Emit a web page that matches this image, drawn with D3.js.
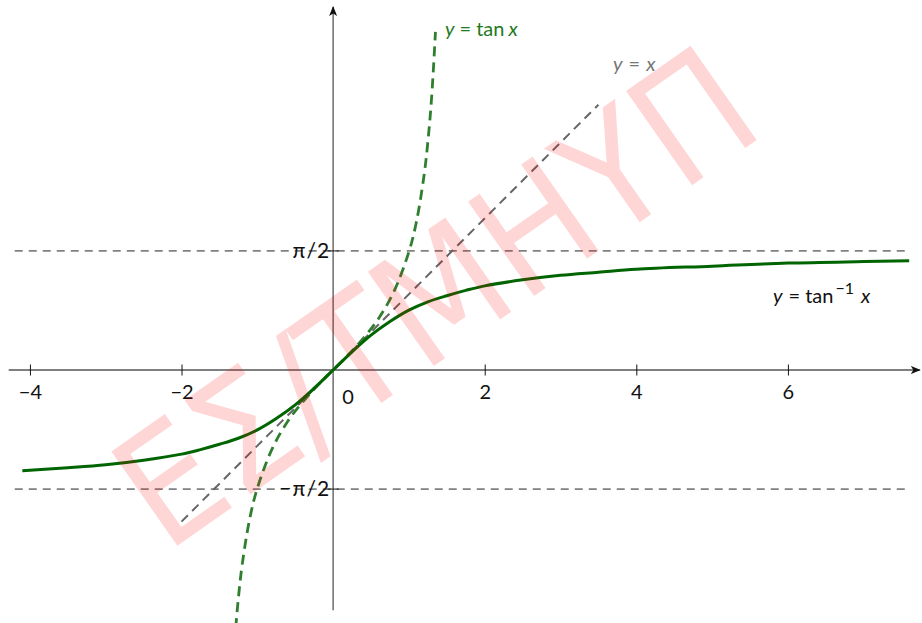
<!DOCTYPE html>
<html>
<head>
<meta charset="utf-8">
<script src="https://cdn.jsdelivr.net/npm/d3@7"></script>
<style>
  html, body { margin: 0; padding: 0; background: #fff; }
  svg { display: block; font-family: Lato, "Open Sans", sans-serif; }
</style>
</head>
<body>
<div id="chart"></div>
<script>
const width = 922;
const height = 623;

// values
const atanX = [-4.1, -3.5, -3, -2.5, -2, -1.75, -1.5, -1.25, -1, -0.75, -0.5, -0.25, 0, 0.25, 0.5, 0.75, 1, 1.25, 1.5, 1.75, 2, 2.5, 3, 3.5, 4, 5, 6, 7, 7.6];
const atanY = [-1.33, -1.29, -1.25, -1.19, -1.11, -1.05, -0.98, -0.9, -0.79, -0.64, -0.46, -0.24, 0, 0.24, 0.46, 0.64, 0.79, 0.9, 0.98, 1.05, 1.11, 1.19, 1.25, 1.29, 1.33, 1.37, 1.41, 1.43, 1.44];

const tanX = [-1.35, -1.3, -1.25, -1.2, -1.1, -1.0, -0.8, -0.6, -0.4, -0.2, 0, 0.2, 0.4, 0.6, 0.8, 1.0, 1.1, 1.2, 1.25, 1.3, 1.35];
const tanY = [-4.46, -3.6, -3.01, -2.57, -1.96, -1.56, -1.03, -0.68, -0.42, -0.2, 0, 0.2, 0.42, 0.68, 1.03, 1.56, 1.96, 2.57, 3.01, 3.6, 4.46];

const identX = [-2, 3.5];
const identY = [-2, 3.5];

const asymX = [-4.2, 7.6];
const asymY = [1.5708, -1.5708];
const asymLabels = ["π/2", "−π/2"];

const xTicks = [-4, -2, 2, 4, 6];

const x = d3.scaleLinear().domain([-4.28, 7.74]).range([8.7, 919.8]);
const y = d3.scaleLinear().domain([-3.17, 4.79]).range([610.3, 6.9]);

const svg = d3.select("#chart")
    .append("svg")
    .attr("width", width)
    .attr("height", height);

const defs = svg.append("defs");
defs.append("marker")
    .attr("id", "arrow")
    .attr("viewBox", "0 0 10 10")
    .attr("refX", 9).attr("refY", 5)
    .attr("markerWidth", 10).attr("markerHeight", 10)
    .attr("markerUnits", "userSpaceOnUse")
    .attr("orient", "auto")
    .append("path")
    .attr("d", "M0,1 L10,5 L0,9 L2.5,5 Z")
    .attr("fill", "#111");

const line = d3.line().x(d => x(d[0])).y(d => y(d[1]));
const curve = d3.line().x(d => x(d[0])).y(d => y(d[1])).curve(d3.curveCatmullRom);

// asymptotes
asymY.forEach(v => {
    svg.append("path")
        .attr("d", line(asymX.map(a => [a, v])))
        .attr("fill", "none")
        .attr("stroke", "#222")
        .attr("stroke-width", 1)
        .attr("stroke-dasharray", "8,6");
});

// axes
svg.append("line")
    .attr("x1", x(-4.28)).attr("x2", x(7.74))
    .attr("y1", y(0)).attr("y2", y(0))
    .attr("stroke", "#555").attr("stroke-width", 1.3)
    .attr("marker-end", "url(#arrow)");
svg.append("line")
    .attr("x1", x(0)).attr("x2", x(0))
    .attr("y1", y(-3.17)).attr("y2", y(4.79))
    .attr("stroke", "#555").attr("stroke-width", 1.3)
    .attr("marker-end", "url(#arrow)");

const xAxis = svg.append("g")
    .attr("transform", `translate(0,${y(0)})`)
    .call(d3.axisBottom(x).tickValues(xTicks).tickSize(5).tickPadding(10)
        .tickFormat(d => d < 0 ? "−" + Math.abs(d) : d));
xAxis.select(".domain").remove();
xAxis.selectAll(".tick line").attr("y1", -5.5).attr("y2", 5.5).attr("stroke", "#111");
xAxis.selectAll(".tick text")
    .attr("font-family", "Lato, sans-serif")
    .attr("font-size", 20)
    .attr("fill", "#111")
    .attr("dy", "0.68em");

const yAxis = svg.append("g")
    .attr("transform", `translate(${x(0)},0)`);
asymY.forEach((v, i) => {
    yAxis.append("line")
        .attr("x1", -5.5).attr("x2", 5.5)
        .attr("y1", y(v)).attr("y2", y(v))
        .attr("stroke", "#111");
    yAxis.append("text")
        .attr("x", -3)
        .attr("y", y(v) + 7)
        .attr("text-anchor", "end")
        .attr("font-size", 21)
        .attr("letter-spacing", 1)
        .attr("fill", "#111")
        .text(asymLabels[i]);
});
svg.append("text")
    .attr("x", x(0) + 15)
    .attr("y", y(0) + 34)
    .attr("text-anchor", "middle")
    .attr("font-size", 20)
    .attr("fill", "#111")
    .text("0");

// y = x
svg.append("path")
    .attr("d", line(identX.map((v, i) => [v, identY[i]])))
    .attr("fill", "none")
    .attr("stroke", "#666")
    .attr("stroke-width", 2)
    .attr("stroke-dasharray", "9,6");

// y = tan x
svg.append("path")
    .attr("d", curve(tanX.map((v, i) => [v, tanY[i]])))
    .attr("fill", "none")
    .attr("stroke", "#2f7f2f")
    .attr("stroke-width", 2.8)
    .attr("stroke-dasharray", "10,6");

// y = arctan x
svg.append("path")
    .attr("d", curve(atanX.map((v, i) => [v, atanY[i]])))
    .attr("fill", "none")
    .attr("stroke", "#006400")
    .attr("stroke-width", 3);

// labels
const lab1 = svg.append("text").attr("x", 445).attr("y", 36)
    .attr("font-size", 20).attr("fill", "#1e7a1e");
lab1.append("tspan").attr("font-style", "italic").text("y");
lab1.append("tspan").attr("dx", 5).text("=");
lab1.append("tspan").attr("dx", 5).text("tan");
lab1.append("tspan").attr("font-style", "italic").attr("dx", 4).text("x");

const lab2 = svg.append("text").attr("x", 613).attr("y", 71)
    .attr("font-size", 20).attr("fill", "#777");
lab2.append("tspan").attr("font-style", "italic").text("y");
lab2.append("tspan").attr("dx", 6).text("=");
lab2.append("tspan").attr("font-style", "italic").attr("dx", 6).text("x");

const lab3 = svg.append("text").attr("x", 773).attr("y", 303)
    .attr("font-size", 20).attr("fill", "#111");
lab3.append("tspan").attr("font-style", "italic").text("y");
lab3.append("tspan").attr("dx", 6).text("=");
lab3.append("tspan").attr("dx", 5).text("tan");
lab3.append("tspan").attr("font-size", 16).attr("dy", -9).attr("dx", 2).text("−1");
lab3.append("tspan").attr("font-style", "italic").attr("dy", 9).attr("dx", 7).text("x");

// watermark
svg.append("text")
    .attr("transform", "translate(467,343) rotate(-35)")
    .attr("text-anchor", "middle")
    .attr("font-family", "DejaVu Sans, sans-serif")
    .attr("font-size", 158)
    .attr("textLength", 735)
    .attr("lengthAdjust", "spacingAndGlyphs")
    .attr("fill", "red")
    .attr("fill-opacity", 0.16)
    .text("ΕΣ/ΤΜΗΥΠ");
</script>
</body>
</html>
